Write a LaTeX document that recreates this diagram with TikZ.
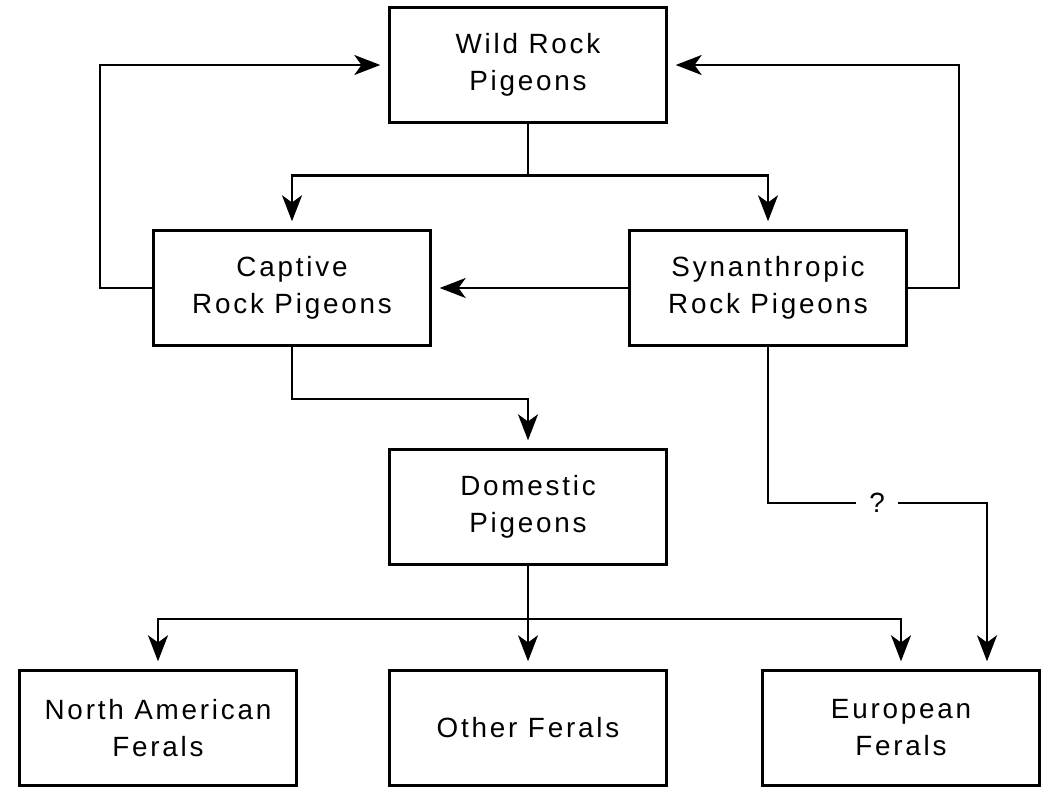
\documentclass[tikz,border=0pt]{standalone}
\usepackage{fontspec}
\setmainfont{Liberation Sans}[LetterSpace=10]
\usepackage{tikz}
\usetikzlibrary{arrows.meta}

\begin{document}
\begin{tikzpicture}[
    x=0.25mm, y=-0.25mm,
    ->,
    >={Stealth[length=6.5mm,width=5mm,inset=1.8mm]},
    line width=0.6mm,
    shorten >=2mm
]

\tikzstyle{group}=[
    rectangle,
    draw,
    minimum width=69.25mm,
    minimum height=28.75mm,
    inner sep=2pt,
    align=center,
    font=\fontsize{19.8pt}{26.3pt}\selectfont
]

\useasboundingbox (0,0) rectangle (1043,788);

\node[group] (wild) at (528,65) {Wild Rock\\Pigeons};

\node[group] (captive) at (292,288) {Captive\\Rock Pigeons};
\node[group] (synan) at (768,288) {Synanthropic\\Rock Pigeons};
\node[group] (domestic) at (528,507) {Domestic\\Pigeons};

\node[group] (na) at (158,728) {North American\\Ferals};
\node[group] (other) at (528,728) {Other Ferals};
\node[group] (european) at (901,728) {European\\Ferals};

\node[inner sep=3mm, font=\fontsize{19.8pt}{26.3pt}\selectfont] (qmark) at (877,503) {?};

\draw (wild.south) -- ++(0,52) -| (captive.north);
\draw (wild.south) -- ++(0,52) -| (synan.north);
\draw (captive.west) -- ++(-52,0) |- (wild.west);
\draw (synan.east) -- ++(51,0) |- (wild.east);
\draw (synan.west) -- (captive.east);
\draw (captive.south) -- ++(0,52) -| (domestic.north);

\draw[-, shorten >=0pt] (synan.south) |- (qmark.west);
\draw (qmark.east) -| ([xshift=21.5mm]european.north);

\draw[-, shorten >=0pt] (domestic.south) -- ++(0,53) coordinate (fork);
\draw (fork) -| (na.north);
\draw (fork) -- (other.north);
\draw (fork) -| (european.north);

\end{tikzpicture}
\end{document}
